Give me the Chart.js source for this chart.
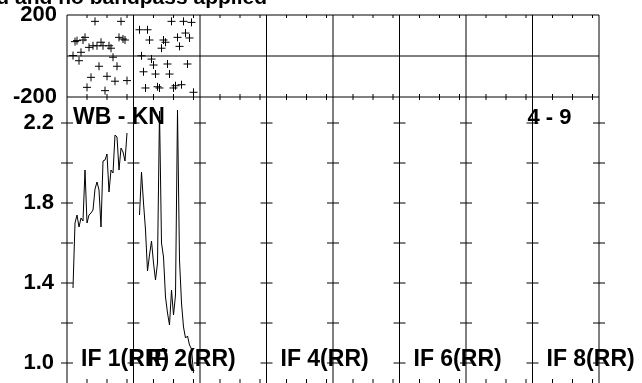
<!DOCTYPE html>
<html><head><meta charset="utf-8">
<script src="https://cdn.jsdelivr.net/npm/chart.js@4.4.1/dist/chart.umd.min.js"></script>
<style>
html,body{margin:0;padding:0;background:#fff;overflow:hidden;width:642px;height:383px;}
#top{position:absolute;left:0;top:-15px;}
#bot{position:absolute;left:0;top:67px;}
</style></head><body>
<canvas id="top" width="642" height="142"></canvas>
<canvas id="bot" width="642" height="348"></canvas>
<script>
// ---- data ----
const channels = [3,4,5,6,7,8,9,10,11,12,13,14,15,16,17,18,19,20,21,22,23,24,25,26,27,28,29,30];
const phaseIF1 = [2,70,75,-23,18,78,91,-153,42,-104,50,169,50,-50,67,50,-169,-99,50,38,-6,-123,-50,91,169,83,78,-120];
const phaseIF2 = [128,1,-77,-156,128,78,-15,-44,-88,-150,-156,38,78,67,-39,-88,169,-156,-145,91,47,-140,169,112,-39,88,164,-177];
const ampIF1 = [1.375,1.70,1.74,1.68,1.725,1.71,1.965,1.70,1.74,1.75,1.765,1.87,1.905,1.865,1.68,2.01,2.015,2.045,1.855,1.965,1.95,2.14,2.13,1.965,2.075,2.055,2.01,2.15];
const ampIF2 = [1.74,1.955,1.80,1.665,1.46,1.54,1.61,1.50,1.415,1.50,2.26,1.60,1.53,1.33,1.25,1.19,1.365,1.24,1.34,2.265,1.515,1.30,1.18,1.125,1.135,1.09,1.07,0.95];
const phaseTicks = [-200, 0, 200];
const phaseTickLabels = ['-200', '', '200'];
const ampTicks = [1.0, 1.2, 1.4, 1.6, 1.8, 2.0, 2.2];
const ampTickLabels = ['1.0', '', '1.4', '', '1.8', '', '2.2'];
const chanTicks = [10, 20, 30];
const ifNumbers = [1, 2, 4, 6, 8];
const ifLabels = ['IF 1(RR)', 'IF 2(RR)', 'IF 4(RR)', 'IF 6(RR)', 'IF 8(RR)'];
const baselineLabel = 'WB - KN';
const timeLabel = '4 - 9';
const titleText = 'd and no bandpass applied';
const nIF = 8;
const chanSpan = 33.25;

const FONT = 'Liberation Sans, Arial, Helvetica, sans-serif';
const toXY = (ifn, vals) => vals.map((v, i) => ({x: (ifn - 1) * chanSpan + channels[i], y: v}));

function seg(ctx, x1, y1, x2, y2){ ctx.beginPath(); ctx.moveTo(x1, y1); ctx.lineTo(x2, y2); ctx.stroke(); }

const xScale = {type: 'linear', min: 0, max: nIF * chanSpan, display: false};

const topFrame = {
  id: 'topFrame',
  beforeDatasetsDraw(chart){
    const {ctx, chartArea: a, scales: {x, y}} = chart;
    ctx.save(); ctx.strokeStyle = '#000'; ctx.lineWidth = 1;
    for (let k = 0; k <= nIF; k++){ const px = x.getPixelForValue(k * chanSpan); seg(ctx, px, a.top, px, a.bottom); }
    seg(ctx, a.left, a.top, a.right, a.top);
    seg(ctx, a.left, a.bottom, a.right, a.bottom);
    const y0 = y.getPixelForValue(0);
    seg(ctx, a.left, y0, a.right, y0);
    for (let k = 0; k < nIF; k++) for (const c of chanTicks){
      const px = x.getPixelForValue(k * chanSpan + c);
      seg(ctx, px, a.top, px, a.top + 3);
      seg(ctx, px, a.bottom - 3, px, a.bottom + 3);
    }
    ctx.restore();
  },
  afterDraw(chart){
    const {ctx, chartArea: a} = chart;
    ctx.save(); ctx.fillStyle = '#000'; ctx.font = 'bold 21px ' + FONT;
    ctx.textAlign = 'right'; ctx.textBaseline = 'alphabetic';
    ctx.fillText(titleText, 267, a.top - 11);
    ctx.restore();
  }
};

const botFrame = {
  id: 'botFrame',
  beforeDatasetsDraw(chart){
    const {ctx, chartArea: a, scales: {x, y}} = chart;
    ctx.save(); ctx.strokeStyle = '#000'; ctx.lineWidth = 1;
    for (let k = 0; k <= nIF; k++){
      const px = x.getPixelForValue(k * chanSpan);
      seg(ctx, px, a.top, px, a.bottom);
      for (const t of ampTicks){ const py = y.getPixelForValue(t); seg(ctx, px - 6, py, px + 6, py); }
    }
    seg(ctx, a.left, a.bottom, a.right, a.bottom);
    for (let k = 0; k < nIF; k++) for (const c of chanTicks){
      const px = x.getPixelForValue(k * chanSpan + c);
      seg(ctx, px, a.bottom - 6, px, a.bottom);
    }
    ctx.restore();
  },
  afterDraw(chart){
    const {ctx, chartArea: a, scales: {x, y}} = chart;
    ctx.save(); ctx.fillStyle = '#000'; ctx.font = 'bold 23px ' + FONT;
    ctx.textBaseline = 'alphabetic'; ctx.textAlign = 'left';
    ctx.fillText(baselineLabel, x.getPixelForValue(0) + 6, a.top + 27);
    ctx.font = 'bold 22px ' + FONT;
    ctx.fillText(timeLabel, x.getPixelForValue(7 * chanSpan) - 5, a.top + 27);
    ctx.font = 'bold 23px ' + FONT;
    const yb = y.getPixelForValue(ampTicks[0]) + 3;
    ifNumbers.forEach((n, i) => ctx.fillText(ifLabels[i], x.getPixelForValue((n - 1) * chanSpan) + 14, yb));
    ctx.restore();
  }
};

function yAxis(min, max, ticks, labels, pad){
  return {
    type: 'linear', min, max, position: 'left',
    grid: {display: false, drawTicks: false},
    border: {display: false},
    afterBuildTicks: s => { s.ticks = ticks.map(v => ({value: v})); },
    afterFit: s => { s.width = 67; },
    ticks: {
      color: '#000', padding: pad, autoSkip: false,
      font: {family: FONT, size: 22, weight: 'bold'},
      callback: (v) => { const i = ticks.indexOf(v); return i >= 0 ? labels[i] : ''; }
    }
  };
}

const common = {
  responsive: false, animation: false, devicePixelRatio: 1,
  plugins: {legend: {display: false}, tooltip: {enabled: false}, title: {display: false}},
  events: []
};

new Chart(document.getElementById('top'), {
  type: 'scatter',
  data: {datasets: [
    {data: toXY(1, phaseIF1)}, {data: toXY(2, phaseIF2)}
  ].map(d => Object.assign(d, {pointStyle: 'cross', pointRadius: 4, pointBorderWidth: 1, borderColor: '#000', backgroundColor: '#000', showLine: false}))},
  options: Object.assign({}, common, {
    layout: {padding: {left: 0, right: 43, top: 30, bottom: 30}},
    scales: {x: xScale, y: yAxis(-200, 200, phaseTicks, phaseTickLabels, 10)}
  }),
  plugins: [topFrame]
});

new Chart(document.getElementById('bot'), {
  type: 'line',
  data: {datasets: [
    {data: toXY(1, ampIF1)}, {data: toXY(2, ampIF2)}
  ].map(d => Object.assign(d, {borderColor: '#000', borderWidth: 1, pointRadius: 0, tension: 0, fill: false}))},
  options: Object.assign({}, common, {
    layout: {padding: {left: 0, right: 43, top: 30, bottom: 30}},
    scales: {x: xScale, y: yAxis(0.89, 2.33, ampTicks, ampTickLabels, 13)}
  }),
  plugins: [botFrame]
});
</script>
</body></html>
